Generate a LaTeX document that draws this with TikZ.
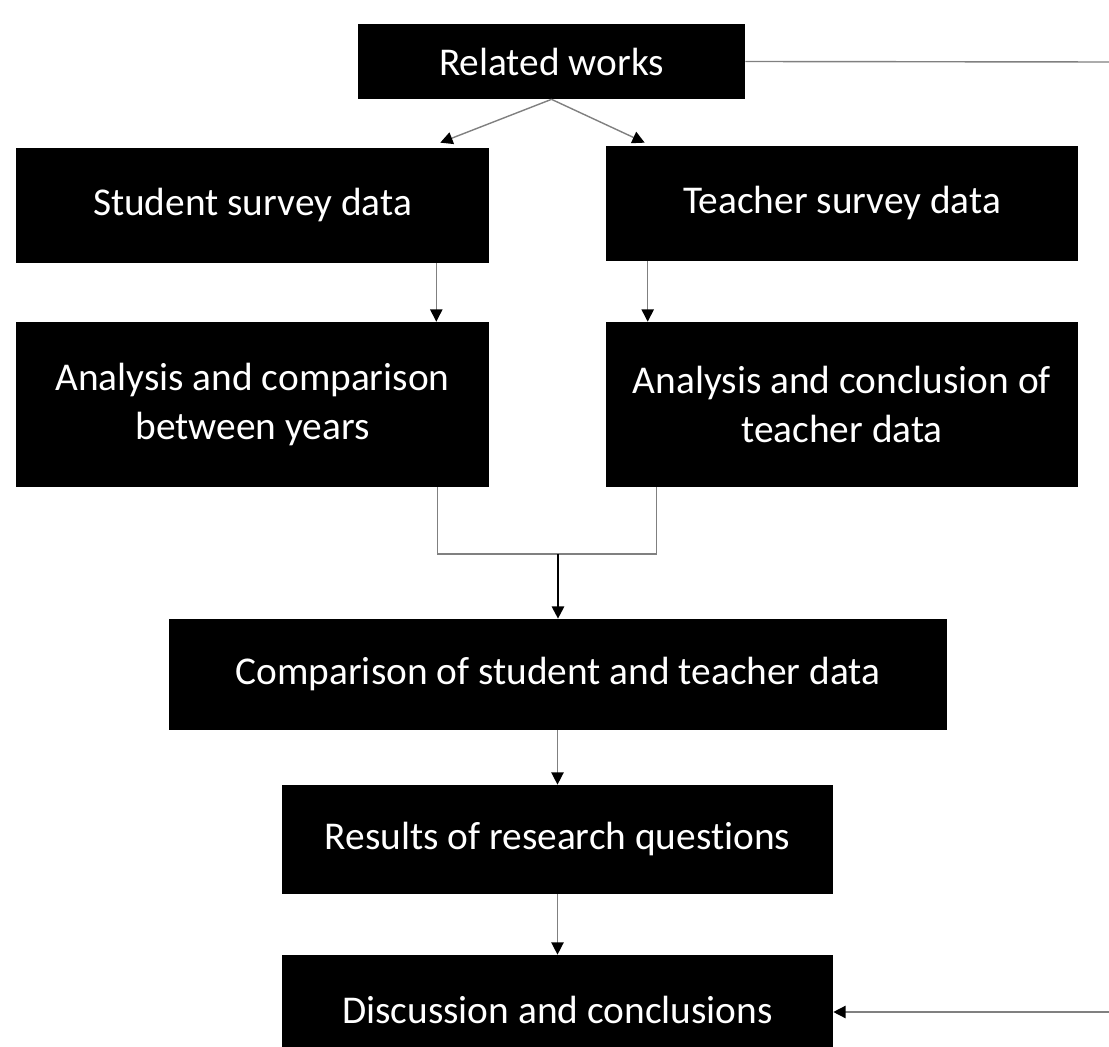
\documentclass[tikz,border=0pt]{standalone}
\usepackage{fontspec}
\setmainfont{Carlito}[Ligatures=NoCommon]
\usetikzlibrary{calc,positioning,arrows.meta}

\tikzset{
  blockbox/.style={fill=black,text=white,inner sep=0pt,align=center,
    font=\fontsize{22.4}{27.5}\selectfont},
  link/.style={draw=gray,line width=0.8pt},
  tip/.style={-{Triangle[length=7pt,width=7pt,color=black]}},
}

\begin{document}
\begin{tikzpicture}[x=0.02cm,y=-0.02cm]
\useasboundingbox (0,0) rectangle (1109,1047);

\node[blockbox,minimum width=7.74cm,minimum height=1.5cm] (rw) at (551.5,61.5) {Related works};
\node[blockbox,minimum width=9.46cm,minimum height=2.3cm] (ss) at (252.5,205.5) {Student survey data};
\node[blockbox,minimum width=9.44cm,minimum height=2.3cm] (ts) at (842,203.5) {Teacher survey data};
\node[blockbox,minimum width=9.46cm,minimum height=3.3cm] (ac) at (252.5,404.5) {Analysis and comparison\\between years};
\node[blockbox,minimum width=9.44cm,minimum height=3.3cm] (tc) at (842,404.5) {Analysis and conclusion of\\teacher data};
\node[blockbox,minimum width=15.56cm,minimum height=2.22cm] (cmp) at (558,674.5) {Comparison of student and teacher data};
\node[blockbox,minimum width=11.02cm,minimum height=2.18cm] (res) at (557.5,839.5) {Results of research questions};
\node[blockbox,minimum width=11.02cm,minimum height=2.2cm] (dc) at (557.5,1010) {Discussion and conclusions};

\coordinate (topright) at (1109,62);
\coordinate (botright) at (1109,1012);
\coordinate (merge) at (558,554);

\draw[link,tip] (rw.south) -- ($(ss.north east)+(-49,-5)$);
\draw[link,tip] (rw.south) -- ($(ts.north west)+(39,-3)$);
\draw[link,tip] ($(ss.south east)+(-53,0)$) -- ($(ac.north east)+(-53,0)$);
\draw[link,tip] ($(ts.south west)+(42,0)$) -- ($(tc.north west)+(42,0)$);
\draw[link] ($(ac.south east)+(-52,0)$) |- (merge) -| ($(tc.south west)+(51,0)$);
\draw[line width=1.2pt,tip] (merge) -- (cmp.north);
\draw[link,tip] (cmp.south -| res.north) -- (res.north);
\draw[link,tip] (res.south) -- (dc.north);
\draw[link] (rw.east) -- (topright);
\draw[link,tip] (botright) -- (dc.east |- botright);
\end{tikzpicture}
\end{document}
